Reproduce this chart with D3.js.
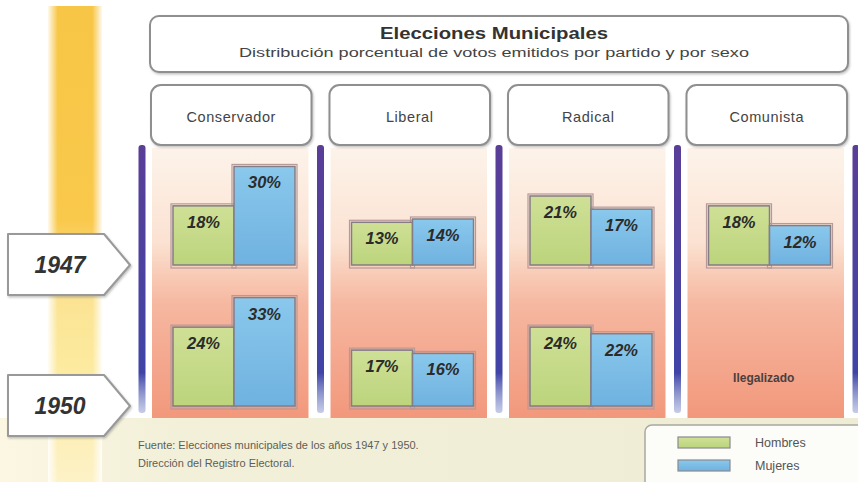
<!DOCTYPE html>
<html>
<head>
<meta charset="utf-8">
<script src="https://cdn.jsdelivr.net/npm/d3@7"></script>
<style>
    body { margin: 0; background: #fff; }
    text { font-family: 'Liberation Sans', Arial, sans-serif; }
</style>
</head>
<body>
<script>
// data read from the infographic
const parties = ['Conservador', 'Liberal', 'Radical', 'Comunista'];
const years = ['1947', '1950'];
const sexes = ['Hombres', 'Mujeres'];
const men_1947 = [18, 13, 21, 18];
const women_1947 = [30, 14, 17, 12];
const men_1950 = [24, 17, 24, null];
const women_1950 = [33, 16, 22, null];
const banned_label = 'Ilegalizado';
const title = 'Elecciones Municipales';
const subtitle = 'Distribución porcentual de votos emitidos por partido y por sexo';
const source_lines = ['Fuente: Elecciones municipales de los años 1947 y 1950.', 'Dirección del Registro Electoral.'];

const svg_width = 858;
const svg_height = 482;
const sex_colors = {'Hombres': 'url(#green_grad)', 'Mujeres': 'url(#blue_grad)'};

const rows = [
    {year: '1947', values: [men_1947, women_1947]},
    {year: '1950', values: [men_1950, women_1950]}
];

const svg = d3.select('body')
    .append('svg')
    .attr('width', svg_width)
    .attr('height', svg_height);

const defs = svg.append('defs');

function vgrad(id, stops, x1, y1, x2, y2) {
    const g = defs.append('linearGradient').attr('id', id)
        .attr('x1', x1 || '0%').attr('y1', y1 || '0%')
        .attr('x2', x2 || '0%').attr('y2', y2 || '100%');
    g.selectAll('stop').data(stops).enter().append('stop')
        .attr('offset', d => d[0])
        .attr('stop-color', d => d[1])
        .attr('stop-opacity', d => d[2] === undefined ? 1 : d[2]);
}
vgrad('yellow_grad', [['0%', '#f8c646'], ['45%', '#f9c94c'], ['56%', '#fbe08e'], ['75%', '#fcea9e'], ['100%', '#fdf2c8']]);
vgrad('yellow_side', [['0%', '#fff', 0.9], ['18%', '#fff', 0], ['82%', '#fff', 0], ['100%', '#fff', 0.9]], '0%', '0%', '100%', '0%');
vgrad('panel_grad', [['0%', '#fdf3ea'], ['35%', '#fbe2d2'], ['48%', '#f8c9b4'], ['58%', '#f6b7a0'], ['100%', '#f2987c']]);
vgrad('green_grad', [['0%', '#cfe096'], ['100%', '#bcd47c']]);
vgrad('blue_grad', [['0%', '#8ac8ec'], ['100%', '#6fb2e0']]);
vgrad('purple_grad', [['0%', '#5a3e98'], ['85%', '#3f44a6'], ['100%', '#8c9ad0', 0.5]]);
vgrad('cream_grad', [['0%', '#fbf7e2'], ['20%', '#f3f0da'], ['100%', '#efecd6']], '0%', '0%', '100%', '0%');

defs.append('filter').attr('id', 'shadow')
    .attr('x', '-10%').attr('y', '-10%').attr('width', '130%').attr('height', '130%')
    .append('feDropShadow')
    .attr('dx', 1).attr('dy', 1.5).attr('stdDeviation', 1.2)
    .attr('flood-color', '#777').attr('flood-opacity', 0.45);

// background
svg.append('rect').attr('width', svg_width).attr('height', svg_height).attr('fill', '#fff');
svg.append('rect')
    .attr('x', 0).attr('y', 418)
    .attr('width', svg_width).attr('height', svg_height - 418)
    .attr('fill', 'url(#cream_grad)');

// yellow time band
svg.append('rect').attr('x', 48).attr('y', 6).attr('width', 54).attr('height', svg_height - 6)
    .attr('fill', 'url(#yellow_grad)');
svg.append('rect').attr('x', 48).attr('y', 6).attr('width', 54).attr('height', svg_height - 6)
    .attr('fill', 'url(#yellow_side)');

// scales
const x_scale = d3.scaleBand().domain(parties).range([142, 856]);
const sex_scale = d3.scaleBand().domain(sexes).range([31, 153]);
const year_base = d3.scaleOrdinal().domain(years).range([265, 406]);
const y_scales = {};
for (const yr of years) {
    const base = year_base(yr);
    y_scales[yr] = d3.scaleLinear().domain([0, 35]).range([base, base - 115]);
}

// title box
svg.append('rect')
    .attr('x', 150).attr('y', 16).attr('width', 698).attr('height', 56)
    .attr('rx', 9)
    .attr('fill', '#fff').attr('stroke', '#8f8f8f').attr('stroke-width', 2)
    .attr('filter', 'url(#shadow)');
svg.append('text')
    .attr('x', 494).attr('y', 39)
    .attr('text-anchor', 'middle')
    .attr('font-size', 16.5).attr('font-weight', 'bold')
    .attr('fill', '#333')
    .attr('textLength', 228).attr('lengthAdjust', 'spacingAndGlyphs')
    .text(title);
svg.append('text')
    .attr('x', 494).attr('y', 57)
    .attr('text-anchor', 'middle')
    .attr('font-size', 12)
    .attr('fill', '#444')
    .attr('textLength', 510).attr('lengthAdjust', 'spacingAndGlyphs')
    .text(subtitle);

// panels
const party_g = svg.selectAll('.party_g')
    .data(parties)
    .enter()
    .append('g')
    .attr('class', 'party_g')
    .attr('transform', d => `translate(${x_scale(d)}, 0)`);

party_g.append('rect')
    .attr('x', 10).attr('y', 148)
    .attr('width', x_scale.bandwidth() - 22).attr('height', 270)
    .attr('fill', 'url(#panel_grad)');

party_g.append('rect')
    .attr('x', 9).attr('y', 85)
    .attr('width', x_scale.bandwidth() - 18).attr('height', 60)
    .attr('rx', 10)
    .attr('fill', '#fff').attr('stroke', '#8f8f8f').attr('stroke-width', 2)
    .attr('filter', 'url(#shadow)');

party_g.append('text')
    .attr('x', x_scale.bandwidth() / 2).attr('y', 122)
    .attr('text-anchor', 'middle')
    .attr('font-size', 14.5)
    .attr('letter-spacing', 0.6)
    .attr('fill', '#444')
    .text(d => d);

// purple separators
const bounds = parties.map(p => x_scale(p)).concat([x_scale.range()[1]]);
svg.selectAll('.sep')
    .data(bounds)
    .enter()
    .append('rect')
    .attr('class', 'sep')
    .attr('x', d => d - 3.5).attr('y', 145)
    .attr('width', 7).attr('height', 268)
    .attr('rx', 3)
    .attr('fill', 'url(#purple_grad)');

// bars
for (const row of rows) {
    const ys = y_scales[row.year];
    const bars = [];
    parties.forEach((p, i) => {
        sexes.forEach((s, j) => {
            const v = row.values[j][i];
            if (v !== null) bars.push({party: p, sex: s, value: v});
        });
    });
    const bar_g = svg.append('g').attr('class', 'bars_' + row.year);
    bar_g.selectAll('.frame')
        .data(bars)
        .enter()
        .append('rect')
        .attr('x', d => x_scale(d.party) + sex_scale(d.sex) - 2)
        .attr('y', d => ys(d.value) - 2)
        .attr('width', sex_scale.bandwidth() + 4)
        .attr('height', d => ys(0) - ys(d.value) + 5)
        .attr('fill', 'none')
        .attr('stroke', '#b59a9a').attr('stroke-width', 1.2);
    bar_g.selectAll('.bar')
        .data(bars)
        .enter()
        .append('rect')
        .attr('class', 'bar')
        .attr('x', d => x_scale(d.party) + sex_scale(d.sex))
        .attr('y', d => ys(d.value))
        .attr('width', sex_scale.bandwidth())
        .attr('height', d => ys(0) - ys(d.value))
        .attr('fill', d => sex_colors[d.sex])
        .attr('stroke', '#857c86').attr('stroke-width', 1.5);
    bar_g.selectAll('.lbl')
        .data(bars)
        .enter()
        .append('text')
        .attr('x', d => x_scale(d.party) + sex_scale(d.sex) + sex_scale.bandwidth() / 2)
        .attr('y', d => ys(d.value) + 22)
        .attr('text-anchor', 'middle')
        .attr('font-size', 16.5).attr('font-weight', 'bold').attr('font-style', 'italic')
        .attr('fill', '#2b2b2b')
        .text(d => d.value + '%');

    // missing party (no bars) -> banned note
    parties.forEach((p, i) => {
        if (row.values[0][i] === null) {
            bar_g.append('text')
                .attr('x', x_scale(p) + x_scale.bandwidth() / 2 - 3)
                .attr('y', year_base(row.year) - 24)
                .attr('text-anchor', 'middle')
                .attr('font-size', 12).attr('font-weight', 'bold')
                .attr('fill', '#4a4040')
                .text(banned_label);
        }
    });
}

// year tags
const year_g = svg.selectAll('.year_g')
    .data(years)
    .enter()
    .append('g')
    .attr('transform', d => `translate(0, ${year_base(d)})`);
year_g.append('path')
    .attr('d', 'M8,-31 L104,-31 L130,0 L104,30 L8,30 Z')
    .attr('fill', '#fff').attr('stroke', '#999').attr('stroke-width', 2)
    .attr('stroke-linejoin', 'round')
    .attr('filter', 'url(#shadow)');
year_g.append('text')
    .attr('x', 60).attr('y', 8)
    .attr('text-anchor', 'middle')
    .attr('font-size', 23).attr('font-weight', 'bold').attr('font-style', 'italic')
    .attr('fill', '#333')
    .text(d => d);

// source
svg.selectAll('.src')
    .data(source_lines)
    .enter()
    .append('text')
    .attr('x', 138).attr('y', (d, i) => 449 + i * 18)
    .attr('font-size', 11)
    .attr('fill', '#5e5e56')
    .text(d => d);

// legend
const legend = svg.append('g');
legend.append('rect')
    .attr('x', 645).attr('y', 425).attr('width', 220).attr('height', 64)
    .attr('rx', 7)
    .attr('fill', '#fcfcf8').attr('stroke', '#a8a8a0').attr('stroke-width', 1.5);
legend.selectAll('.sw')
    .data(sexes)
    .enter()
    .append('rect')
    .attr('x', 678).attr('y', (d, i) => 437 + i * 23)
    .attr('width', 52).attr('height', 11)
    .attr('fill', d => sex_colors[d])
    .attr('stroke', '#8a8a90').attr('stroke-width', 1.2);
legend.selectAll('.lt')
    .data(sexes)
    .enter()
    .append('text')
    .attr('x', 755).attr('y', (d, i) => 447 + i * 23)
    .attr('font-size', 12.5)
    .attr('fill', '#555')
    .text(d => d);
</script>
</body>
</html>
